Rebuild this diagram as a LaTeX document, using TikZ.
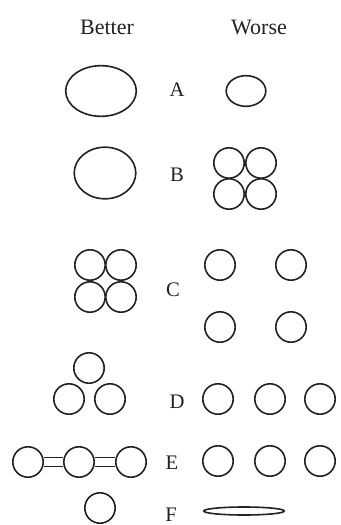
\documentclass[tikz,border=0pt]{standalone}
\usepackage{fontspec}
\setmainfont{Liberation Serif}
\usetikzlibrary{shapes.geometric}
\definecolor{ink}{HTML}{222222}
\tikzset{
  sphere/.style={circle,draw=ink,line width=1.2pt,minimum size=22.8pt,
                 inner sep=0pt},
  oval/.style={ellipse,draw=ink,line width=1.2pt,inner sep=0pt},
  tag/.style={text=ink,inner sep=0pt,font=\fontsize{15.5}{18}\selectfont},
  colhead/.style={text=ink,inner sep=0pt,font=\fontsize{16.5}{19}\selectfont},
  bond/.style={draw=ink,line width=1.1pt,double=white,double distance=5.4pt}
}

\begin{document}
\begin{tikzpicture}[x=0.75pt,y=-0.75pt]
    \path[use as bounding box] (0,0) rectangle (340,525);

    \node[colhead] (better) at (107,27) {Better};
    \node[colhead] (worse) at (259,27) {Worse};

    % A
    \node[oval,minimum width=53pt,minimum height=38pt] (a-better) at (101,91) {};
    \node[tag] (a-tag) at (177,90) {A};
    \node[oval,minimum width=29.7pt,minimum height=23pt] (a-worse) at (246,91) {};

    % B
    \node[oval,minimum width=46.2pt,minimum height=38.7pt] (b-better) at (105,173) {};
    \node[tag] (b-tag) at (177,175) {B};
    \node[sphere] (b1) at (229,163) {};
    \node[sphere] (b2) at (261,163) {};
    \node[sphere] (b3) at (229,194) {};
    \node[sphere] (b4) at (261,194) {};

    % C
    \node[sphere] (c1) at (90,265) {};
    \node[sphere] (c2) at (121,265) {};
    \node[sphere] (c3) at (90,297) {};
    \node[sphere] (c4) at (121,297) {};
    \node[tag] (c-tag) at (173,290) {C};
    \node[sphere] (c5) at (220,265) {};
    \node[sphere] (c6) at (291,265) {};
    \node[sphere] (c7) at (220,327) {};
    \node[sphere] (c8) at (291,327) {};

    % D
    \node[sphere] (d1) at (89,368) {};
    \node[sphere] (d2) at (69,399) {};
    \node[sphere] (d3) at (110,399) {};
    \node[tag] (d-tag) at (177,402) {D};
    \foreach \x [count=\i from 4] in {218,270,320}
      \node[sphere] (d\i) at (\x,399) {};

    % E
    \foreach \x [count=\i] in {28,79,131}
      \node[sphere] (e\i) at (\x,462) {};
    \draw[bond] (e1) -- (e2);
    \draw[bond] (e2) -- (e3);
    \node[tag] (e-tag) at (172,463) {E};
    \foreach \x [count=\i from 4] in {218,270,320}
      \node[sphere] (e\i) at (\x,461) {};

    % F
    \node[sphere] (f1) at (100,508) {};
    \node[tag] (f-tag) at (171,515) {F};
    \node[oval,minimum width=60.5pt,minimum height=6pt] (f2) at (244,511) {};
  \end{tikzpicture}
\end{document}
